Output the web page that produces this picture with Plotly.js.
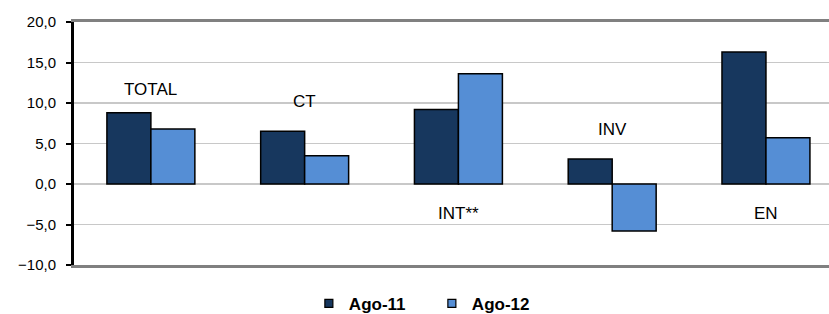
<!DOCTYPE html>
<html>
<head>
<meta charset="utf-8">
<script src="https://cdn.plot.ly/plotly-3.0.1.min.js"></script>
<style>html,body{margin:0;padding:0;background:#fff;}#chart{width:829px;height:314px;}</style>
</head>
<body>
<div id="chart"></div>
<script>
const categories = ["TOTAL", "CT", "INT**", "INV", "EN"];
const ago11 = [8.8, 6.5, 9.2, 3.1, 16.3];
const ago12 = [6.8, 3.5, 13.6, -5.8, 5.7];
const seriesNames = ["Ago-11", "Ago-12"];
const seriesColors = ["#17375E", "#558ED5"];
const labelY = [11.7, 10.2, -3.7, 6.7, -3.7];

const font = "Liberation Sans, Arial, sans-serif";
const seriesValues = [ago11, ago12];
const traces = [];
seriesValues.forEach((vals, k) => {
  traces.push({type: "bar", name: seriesNames[k], x: categories, y: vals, showlegend: false,
    marker: {color: seriesColors[k], line: {color: "#000", width: 1.5}}, hoverinfo: "none"});
});
seriesValues.forEach((vals, k) => {
  traces.push({type: "scatter", mode: "markers", name: seriesNames[k], x: [null], y: [null],
    marker: {symbol: "square", size: 8, color: seriesColors[k], line: {color: "#000", width: 1.2}},
    hoverinfo: "none"});
});
// empty trace so the label axis (y2) is drawn
traces.push({type: "scatter", mode: "markers", x: [categories[0]], y: [null], yaxis: "y2",
  showlegend: false, hoverinfo: "none"});
const annotations = categories.map((c, i) => ({
  x: c, y: labelY[i], xref: "x", yref: "y", text: c, showarrow: false,
  xanchor: "center", yanchor: "middle", font: {family: font, size: 17, color: "#000"}
}));
const yRange = [-10, 20];
const layout = {
  width: 829, height: 314,
  margin: {l: 74, r: 0, t: 22, b: 49, autoexpand: false},
  paper_bgcolor: "#fff", plot_bgcolor: "#fff",
  separators: ",.",
  barmode: "group", bargap: 0.428, bargroupgap: 0,
  showlegend: true,
  legend: {orientation: "h", x: 0.474, xanchor: "center", y: -0.16, yanchor: "middle",
           entrywidth: 78, entrywidthmode: "pixels",
           font: {family: font, size: 17, color: "#000", weight: "bold"}, itemwidth: 30},
  xaxis: {type: "category", range: [-0.5, 4.41], showticklabels: false, ticks: "",
          showgrid: false, showline: true, linecolor: "#808080", linewidth: 3, mirror: true, zeroline: false},
  yaxis: {range: yRange, dtick: 5, tick0: 0, showticklabels: false,
          showgrid: true, gridcolor: "#c8c8c8", gridwidth: 1.5,
          zeroline: true, zerolinecolor: "#c8c8c8", zerolinewidth: 1.5,
          showline: true, linecolor: "#000", linewidth: 3,
          ticks: "outside", ticklen: 5, tickwidth: 2, tickcolor: "#000"},
  yaxis2: {range: yRange, dtick: 5, tick0: 0, tickformat: ".1f", overlaying: "y", side: "left", anchor: "x",
           showgrid: false, zeroline: false, showline: false,
           ticks: "outside", ticklen: 14, tickwidth: 1, tickcolor: "rgba(0,0,0,0)",
           tickfont: {family: font, size: 15, color: "#000"}},
  annotations: annotations
};
Plotly.newPlot("chart", traces, layout, {staticPlot: true, displayModeBar: false});
</script>
</body>
</html>
